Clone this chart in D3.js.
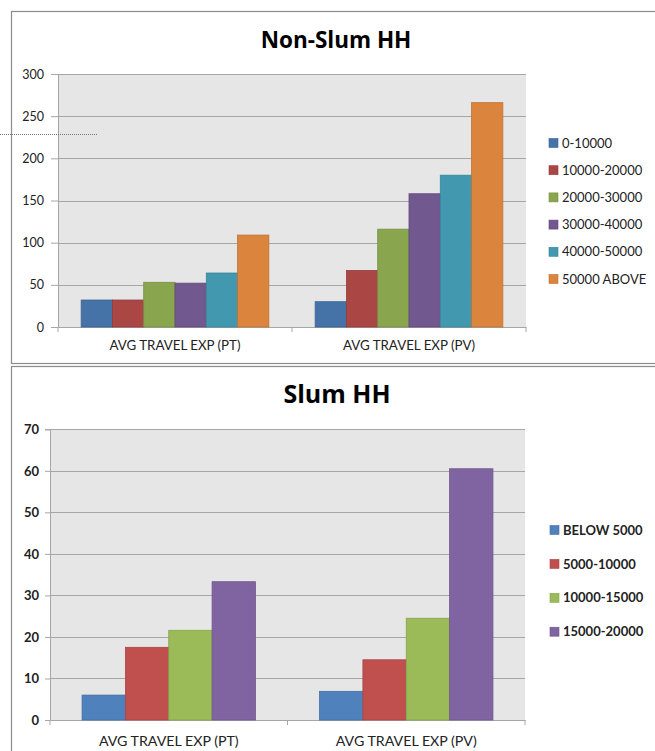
<!DOCTYPE html>
<html><head><meta charset="utf-8">
<script src="https://cdn.jsdelivr.net/npm/d3@7"></script>
<style>html,body{margin:0;padding:0;background:#fff;}svg{display:block;}</style>
</head><body>
<svg id="chart" width="655" height="751"></svg>
<script>
// ---- Data ----
const categories = ["AVG TRAVEL EXP (PT)", "AVG TRAVEL EXP (PV)"];

const nonSlumSeries = ["0-10000", "10000-20000", "20000-30000", "30000-40000", "40000-50000", "50000 ABOVE"];
const nonSlumPT = [32, 32, 53, 52, 64, 109];
const nonSlumPV = [30, 67, 116, 158, 180, 266];
const nonSlumTicks = [0, 50, 100, 150, 200, 250, 300];
const nonSlumColors = ["#4572A7", "#AA4643", "#89A54E", "#71588F", "#4198AF", "#DB843D"];

const slumSeries = ["BELOW 5000", "5000-10000", "10000-15000", "15000-20000"];
const slumPT = [6.0, 17.5, 21.6, 33.3];
const slumPV = [6.9, 14.5, 24.5, 60.5];
const slumTicks = [0, 10, 20, 30, 40, 50, 60, 70];
const slumColors = ["#4F81BD", "#C0504D", "#9BBB59", "#8064A2"];

const svg = d3.select("#chart");

function drawChart(cfg) {
  const g = svg.append("g");
  // outer frame
  g.append("rect").attr("x", cfg.frame[0] + 0.5).attr("y", cfg.frame[1] + 0.5)
    .attr("width", cfg.frame[2]).attr("height", cfg.frame[3])
    .attr("fill", "#fff").attr("stroke", "#8c8c8c").attr("stroke-width", 1.2);

  const x0 = d3.scaleBand().domain(categories).range([cfg.left, cfg.right]).paddingInner(0).paddingOuter(0);
  const x1 = d3.scaleBand().domain(cfg.series).range([0, x0.bandwidth()]).paddingInner(0).paddingOuter(0.74);
  const y = d3.scaleLinear().domain([0, cfg.ticks[cfg.ticks.length - 1]]).range([cfg.bottom, cfg.top]);

  // plot area
  g.append("rect").attr("x", cfg.left).attr("y", cfg.top)
    .attr("width", cfg.right - cfg.left).attr("height", cfg.bottom - cfg.top)
    .attr("fill", "#e6e6e6");

  // gridlines
  g.append("g").selectAll("line").data(cfg.ticks.slice(1)).join("line")
    .attr("x1", cfg.left).attr("x2", cfg.right)
    .attr("y1", d => Math.round(y(d)) + 0.5).attr("y2", d => Math.round(y(d)) + 0.5)
    .attr("stroke", "#a6a6a6").attr("stroke-width", 1);

  // y axis
  const ya = g.append("g").attr("transform", `translate(${cfg.left},0)`)
    .call(d3.axisLeft(y).tickValues(cfg.ticks).tickSize(cfg.tickLen).tickPadding(cfg.tickPad).tickFormat(d3.format("d")));
  ya.select(".domain").attr("stroke", "#a6a6a6");
  ya.selectAll(".tick line").attr("stroke", "#a6a6a6");
  ya.selectAll(".tick text").attr("fill", "#222").style("font-family", cfg.font)
    .style("font-size", cfg.tickFont + "px").style("font-weight", cfg.tickWeight);

  // x axis
  const xa = g.append("g").attr("transform", `translate(0,${cfg.bottom})`)
    .call(d3.axisBottom(x0).tickSize(0).tickPadding(cfg.catPad));
  xa.select(".domain").attr("stroke", "#a6a6a6");
  xa.selectAll(".tick text").attr("fill", "#222").style("font-family", cfg.font)
    .style("font-size", cfg.catFont + "px");
  // category boundary ticks
  const bounds = [cfg.left, cfg.left + x0.bandwidth(), cfg.right];
  g.append("g").selectAll("line").data(bounds).join("line")
    .attr("x1", d => d).attr("x2", d => d).attr("y1", cfg.bottom).attr("y2", cfg.bottom + 5)
    .attr("stroke", "#a6a6a6");

  // bars
  const groups = g.append("g").selectAll("g").data(categories).join("g")
    .attr("transform", d => `translate(${x0(d)},0)`);
  groups.selectAll("rect").data((c, ci) => cfg.series.map((s, si) => ({ s, si, v: cfg.values[ci][si] })))
    .join("rect")
    .attr("x", d => x1(d.s)).attr("width", x1.bandwidth())
    .attr("y", d => y(d.v)).attr("height", d => cfg.bottom - y(d.v))
    .attr("fill", d => cfg.colors[d.si])
    .attr("stroke", d => d3.color(cfg.colors[d.si]).darker(0.4)).attr("stroke-width", 0.8);

  // title
  g.append("text").attr("x", cfg.titleX).attr("y", cfg.titleY).attr("text-anchor", "middle")
    .style("font-family", "'Open Sans', sans-serif").style("font-size", cfg.titleFont + "px").style("font-weight", "bold")
    .attr("fill", "#000").text(cfg.title);

  // legend
  const lg = g.append("g").selectAll("g").data(cfg.series).join("g")
    .attr("transform", (d, i) => `translate(${cfg.legX},${cfg.legY + i * cfg.legStep})`);
  lg.append("rect").attr("x", 0).attr("y", -4.5).attr("width", 9).attr("height", 9)
    .attr("fill", (d, i) => cfg.colors[i]).attr("stroke", (d, i) => d3.color(cfg.colors[i]).darker(0.4)).attr("stroke-width", 0.6);
  lg.append("text").attr("x", 13).attr("y", 0).attr("dy", "0.36em")
    .style("font-family", cfg.font).style("font-size", cfg.legFont + "px").style("font-weight", cfg.legWeight)
    .attr("fill", "#222").text(d => d);
}

drawChart({
  frame: [11, 11, 660, 352],
  left: 58, right: 526, top: 74, bottom: 327,
  series: nonSlumSeries, values: [nonSlumPT, nonSlumPV], colors: nonSlumColors, ticks: nonSlumTicks,
  tickLen: 7, tickPad: 7, tickFont: 12.5, tickWeight: "normal", catPad: 14, catFont: 13.3,
  font: "Lato, 'Open Sans', sans-serif",
  title: "Non-Slum HH", titleX: 336, titleY: 48, titleFont: 22.5,
  legX: 549, legY: 143, legStep: 27.2, legFont: 13, legWeight: "normal"
});

drawChart({
  frame: [11, 366, 660, 400],
  left: 50, right: 525, top: 429.3, bottom: 720,
  series: slumSeries, values: [slumPT, slumPV], colors: slumColors, ticks: slumTicks,
  tickLen: 5, tickPad: 6, tickFont: 13, tickWeight: "bold", catPad: 16, catFont: 14.2,
  font: "Lato, 'Open Sans', sans-serif",
  title: "Slum HH", titleX: 337, titleY: 403, titleFont: 25,
  legX: 550, legY: 530, legStep: 33.9, legFont: 13, legWeight: "bold"
});

// dotted leader line at left of top chart
svg.append("line").attr("x1", 0).attr("x2", 97).attr("y1", 134.5).attr("y2", 134.5)
  .attr("stroke", "#777").attr("stroke-width", 1).attr("stroke-dasharray", "1,1");
</script>
</body></html>
